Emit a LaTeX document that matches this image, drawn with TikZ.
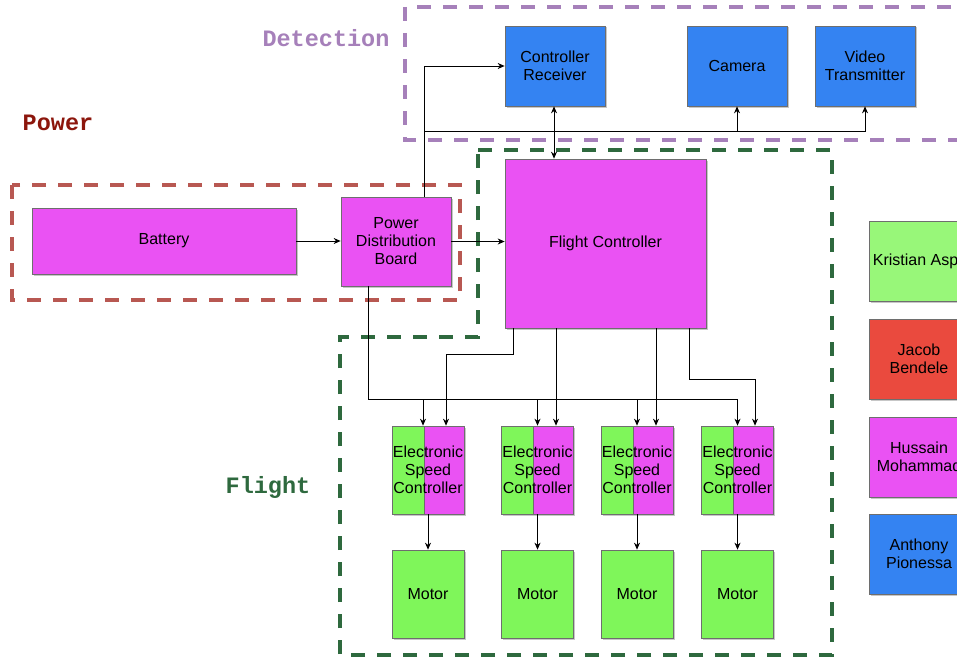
\documentclass[tikz,border=0pt]{standalone}
\usepackage{fontspec}
\setmainfont{Liberation Sans}
\newfontfamily\monob{Liberation Mono}
\usetikzlibrary{arrows.meta,shadows,calc}
\definecolor{mag}{RGB}{234,82,243}
\definecolor{blu}{RGB}{52,131,242}
\definecolor{grn}{RGB}{127,246,90}
\definecolor{lgrn}{RGB}{152,247,121}
\definecolor{rd}{RGB}{234,74,62}
\definecolor{bord}{RGB}{110,110,110}
\definecolor{purp}{RGB}{166,128,186}
\definecolor{brn}{RGB}{184,88,82}
\definecolor{dgrn}{RGB}{46,105,62}
\definecolor{pwrtxt}{RGB}{140,22,12}
\begin{document}
\begin{tikzpicture}[x=1pt,y=-1pt,
  blk/.style={draw=bord,line width=0.7pt,inner sep=0pt,align=center,
    font=\fontsize{16}{18}\selectfont,
    drop shadow={shadow xshift=1.5pt,shadow yshift=-1.5pt,fill=black,opacity=0.22}},
  sz/.style 2 args={minimum width=#1pt,minimum height=#2pt},
  escbox/.style={blk,fill=mag,sz={72}{88},
    path picture={\fill[grn] (path picture bounding box.north west) rectangle ([xshift=32pt]path picture bounding box.south west);
      \draw[bord,line width=0.7pt] ([xshift=32pt]path picture bounding box.north west) -- ([xshift=32pt]path picture bounding box.south west);}},
  motbox/.style={blk,fill=grn,sz={72}{88}},
  grp/.style={line width=3.5pt,dash pattern=on 14pt off 12pt},
  ttl/.style={font=\monob\bfseries\fontsize{23.5}{26}\selectfont},
  conn/.style={line width=0.8pt,-{Stealth[length=7pt,width=6pt]}},
  plain/.style={line width=0.8pt}]
\clip (0,0) rectangle (957,661);
\fill[white] (0,0) rectangle (957,661);
% group frames
\draw[grp,purp] (405,7) rectangle (1000,140);
\draw[grp,brn] (12,185) rectangle (460,300);
\draw[grp,dgrn] (478,150) -- (832,150) -- (832,655) -- (340,655) -- (340,337) -- (478,337) -- cycle;
% titles
\node[ttl,text=purp] (tdet) at (326,38) {Detection};
\node[ttl,text=pwrtxt] (tpow) at (58,123) {Power};
\node[ttl,text=dgrn] (tfli) at (268,487) {Flight};
% detection blocks
\node[blk,fill=blu,sz={100}{80}] (recv) at (555,66) {Controller\\Receiver};
\node[blk,fill=blu,sz={100}{80}] (cam) at (737,66) {Camera};
\node[blk,fill=blu,sz={100}{80}] (vtx) at (865,66) {Video\\Transmitter};
% power blocks
\node[blk,fill=mag,sz={264}{66}] (bat) at (164,241) {Battery};
\node[blk,fill=mag,sz={110}{89}] (pdb) at (396,241.5) {Power\\Distribution\\Board};
% flight blocks
\node[blk,fill=mag,sz={201}{169}] (fc) at (605.5,243.5) {Flight Controller};
\node[escbox] (esc1) at (428,470) {Electronic\\Speed\\Controller};
\node[escbox] (esc2) at (537.5,470) {Electronic\\Speed\\Controller};
\node[escbox] (esc3) at (637,470) {Electronic\\Speed\\Controller};
\node[escbox] (esc4) at (737.5,470) {Electronic\\Speed\\Controller};
\node[motbox] (mot1) at (428,594) {Motor};
\node[motbox] (mot2) at (537.5,594) {Motor};
\node[motbox] (mot3) at (637,594) {Motor};
\node[motbox] (mot4) at (737.5,594) {Motor};
% legend
\node[blk,fill=lgrn,sz={100}{80},label={[anchor=west,font=\fontsize{16}{18}\selectfont,inner sep=0pt,xshift=4pt]west:Kristian Asp}] (lk) at (919,261) {};
\node[blk,fill=rd,sz={100}{80}] (lj) at (919,359) {Jacob\\Bendele};
\node[blk,fill=mag,sz={100}{80}] (lh) at (919,457) {Hussain\\Mohammad};
\node[blk,fill=blu,sz={100}{80}] (la) at (919,554) {Anthony\\Pionessa};
% connectors
\draw[conn] (bat.east) -- (pdb.west |- bat.east);
\draw[conn] (pdb.east) -- (pdb.east -| fc.west);
\coordinate (ptop) at ([xshift=28pt]pdb.north);
\draw[conn] (ptop) |- (recv.west);
\coordinate (bus) at (ptop |- 0,131);
\draw[conn] (bus) -| (vtx.south);
\draw[conn] (bus -| cam.south) -- (cam.south);
\draw[line width=0.8pt,{Stealth[length=7pt,width=6pt]}-{Stealth[length=7pt,width=6pt]}] ([xshift=-1pt]recv.south) -- ([xshift=-1pt]recv.south |- fc.north);
% PDB power bus to ESCs
\coordinate (pbot) at ([xshift=-28pt]pdb.south);
\coordinate (pbus) at (0,399);
\draw[plain] (pbot) |- (esc4.north |- pbus);
\draw[conn] ([xshift=-5pt]esc1.north |- pbus) -- ([xshift=-5pt]esc1.north);
\draw[conn] (esc2.north |- pbus) -- (esc2.north);
\draw[conn] (esc3.north |- pbus) -- (esc3.north);
\draw[conn] (esc4.north |- pbus) -- (esc4.north);
% FC signals to ESCs
\draw[conn] ([xshift=9pt]fc.south west) -- ++(0,26) -| ([xshift=18pt]esc1.north);
\draw[conn] ([xshift=18.5pt]esc2.north |- fc.south) -- ([xshift=18.5pt]esc2.north);
\draw[conn] ([xshift=19pt]esc3.north |- fc.south) -- ([xshift=19pt]esc3.north);
\draw[conn] ([xshift=-17pt]fc.south east) -- ++(0,51) -| ([xshift=17.5pt]esc4.north);
% ESCs to motors
\draw[conn] (esc1.south) -- (mot1.north);
\draw[conn] (esc2.south) -- (mot2.north);
\draw[conn] (esc3.south) -- (mot3.north);
\draw[conn] (esc4.south) -- (mot4.north);
\end{tikzpicture}
\end{document}
